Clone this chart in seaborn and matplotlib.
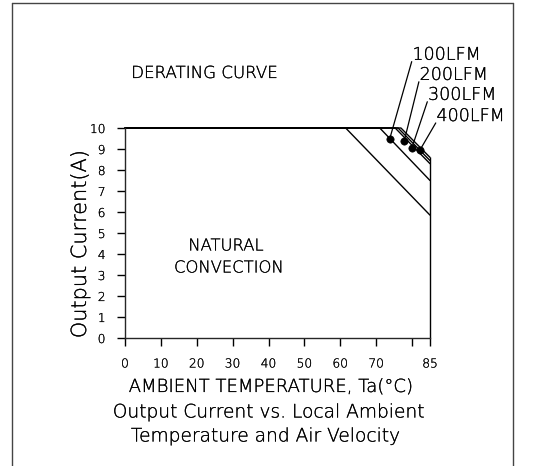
import matplotlib
matplotlib.use("Agg")
import matplotlib.pyplot as plt
import matplotlib.patheffects as pe
from matplotlib.lines import Line2D
import numpy as np
import pandas as pd
import seaborn as sns

# Derating curves: flat at full current until the break temperature,
# then linear derating down to the 85 °C limit.
series = ["NATURAL", "100LFM", "200LFM", "300LFM", "400LFM"]
start_temp = [0, 0, 0, 0, 0]
break_temp = [61.5, 71.0, 75.3, 76.1, 76.9]
max_current = [10, 10, 10, 10, 10]
end_temp = [85, 85, 85, 85, 85]
end_current = [5.85, 7.5, 8.3, 8.45, 8.6]

# Marked points on the air-flow curves
dot_labels = ["100LFM", "200LFM", "300LFM", "400LFM"]
dot_temp = [73.8, 77.8, 79.9, 82.2]
dot_current = [9.5, 9.37, 9.03, 8.95]

# Leader-line ends where the air-flow labels sit
label_temp = [79.9, 81.9, 84.25, 86.6]
label_current = [13.16, 12.2, 11.25, 10.24]

x_ticks = [0, 10, 20, 30, 40, 50, 60, 70, 80, 85]
x_tick_labels = ["0", "10", "20", "30", "40", "50", "60", "70", "", "85"]
y_ticks = list(range(0, 11))

rows = []
for s, t0, tb, imax, te, ie in zip(series, start_temp, break_temp, max_current, end_temp, end_current):
    rows += [
        {"series": s, "order": 0, "temp": t0, "current": imax},
        {"series": s, "order": 1, "temp": tb, "current": imax},
        {"series": s, "order": 2, "temp": te, "current": ie},
    ]
curves = pd.DataFrame(rows)
dots = pd.DataFrame({"series": dot_labels, "temp": dot_temp, "current": dot_current})

sns.set_style("ticks")
plt.rcParams["font.family"] = ["DejaVu Sans"]
plt.rcParams["font.weight"] = "light"
plt.rcParams["text.color"] = "black"
plt.rcParams["axes.labelcolor"] = "black"
plt.rcParams["axes.labelweight"] = "light"
plt.rcParams["axes.linewidth"] = 1.0

# thin plotter-style lettering: light face with a hairline outline
INK = [pe.withStroke(linewidth=0.15, foreground="black")]

fig = plt.figure(figsize=(5.47, 4.66), dpi=100)
ax = fig.add_axes([125 / 547, 1 - 338 / 466, 305 / 547, 210 / 466])

sns.lineplot(data=curves, x="temp", y="current", hue="series", units="series",
             estimator=None, sort=False, palette=["black"] * len(series),
             linewidth=1.0, legend=False, ax=ax)
for ln in ax.get_lines():
    ln.set_clip_on(False)

# Right-hand limit at 85 °C
ax.vlines(end_temp[0], 0, max(end_current), color="black", linewidth=1.0,
          clip_on=False)

sns.scatterplot(data=dots, x="temp", y="current", color="black", s=28,
                edgecolor="black", legend=False, ax=ax, zorder=5)

for name, tx, ty, lx, ly in zip(dot_labels, dot_temp, dot_current, label_temp, label_current):
    ax.annotate("", xy=(tx, ty), xytext=(lx, ly), annotation_clip=False,
                arrowprops=dict(arrowstyle="-", color="black", linewidth=0.9,
                                shrinkA=0, shrinkB=0))
    ax.text(lx + 0.2, ly - 0.1, name, ha="left", va="bottom", fontsize=12.6,
            clip_on=False, path_effects=INK)

ax.set_xlim(0, 85)
ax.set_ylim(0, 10)
ax.set_xticks(x_ticks)
ax.set_xticklabels(x_tick_labels)
ax.set_yticks(y_ticks)
ax.tick_params(axis="both", direction="out", length=6, width=1.0,
               labelsize=8.8, color="black", labelcolor="black")
ax.tick_params(axis="y", pad=8)
ax.tick_params(axis="x", pad=8)
sns.despine(ax=ax, top=True, right=True)
for lbl in ax.get_xticklabels() + ax.get_yticklabels():
    lbl.set_path_effects(INK)

ax.set_xlabel("AMBIENT TEMPERATURE, Ta(°C)", fontsize=13, path_effects=INK)
ax.set_ylabel("Output Current(A)", fontsize=15, path_effects=INK)
ax.xaxis.set_label_coords((270 - 125) / 305, (338 - 387) / 210)
ax.yaxis.set_label_coords((80 - 125) / 305, (338 - 244) / 210)
ax.xaxis.label.set_va("center")
ax.yaxis.label.set_va("center")

fig.text(204 / 547, 1 - 73 / 466, "DERATING CURVE", ha="center", va="center",
         fontsize=12, path_effects=INK)
fig.text(226 / 547, 1 - 246 / 466, "NATURAL", ha="center", va="center",
         fontsize=11.8, path_effects=INK)
fig.text(229 / 547, 1 - 268 / 466, "CONVECTION", ha="center", va="center",
         fontsize=11.8, path_effects=INK)
fig.text(269 / 547, 1 - 412 / 466, "Output Current vs. Local Ambient",
         ha="center", va="center", fontsize=13.4, path_effects=INK)
fig.text(266 / 547, 1 - 436 / 466, "Temperature and Air Velocity",
         ha="center", va="center", fontsize=13.4, path_effects=INK)

# Drawing frame (open at the bottom)
fx0, fx1, fy1 = 12 / 547, 513 / 547, 1 - 3 / 466
for xs, ys in [([fx0, fx0], [0, fy1]), ([fx0, fx1], [fy1, fy1]), ([fx1, fx1], [fy1, 0])]:
    fig.add_artist(Line2D(xs, ys, transform=fig.transFigure, color="#444444",
                          linewidth=1.0))

fig.savefig("out.png", dpi=100)
